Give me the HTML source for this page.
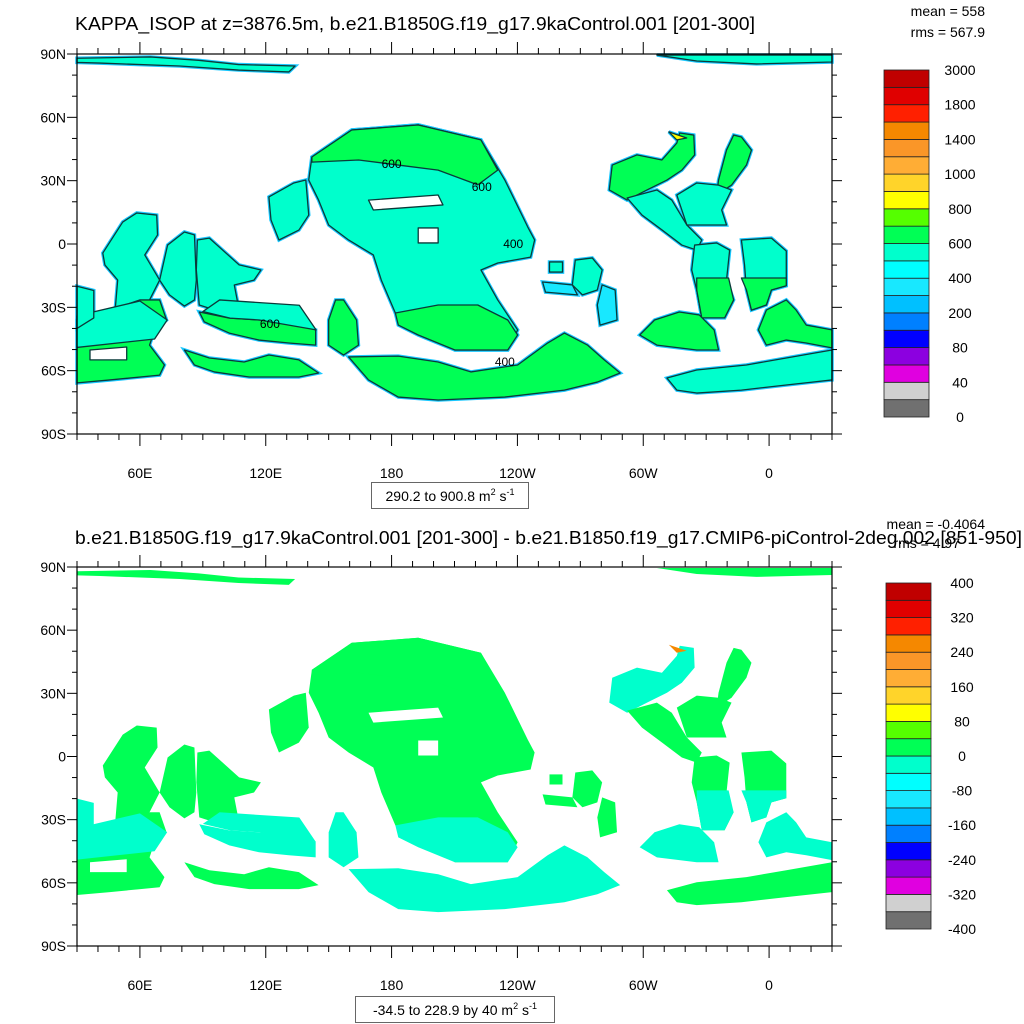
<!DOCTYPE html>
<html><head><meta charset="utf-8"><style>
html,body{margin:0;padding:0;background:#fff}
svg{display:block;font-family:"Liberation Sans",sans-serif}
</style></head><body>
<svg id="fig" width="1024" height="1024" viewBox="0 0 1024 1024">
<g id="panels"></g>
</svg>
<script>
// ---- data ----
const regionNames = ['arctic-west','arctic-east','central-continent','central-north-cap','central-south','southern-band','west-island-a','west-island-b','west-island-c','west-island-d','southwest-mass','southwest-upper','band-600','band-600-upper','lower-strip','small-island','island-r1','island-r2','island-r3','island-r4','rc1-north','rc1-strip','rc2-north','rc2-south','rc3','rc3-lower','rc4','rc4-lower','rc5','rc6','rc7','west-edge','hole-1','hole-2','hole-sw','yellow-spot'];
const regionCoords = [
[[30,88],[65,88.6],[88,87],[107,85],[134,84.3],[131,81.5],[107,82.4],[79,84.3],[41,85.7],[30,86]],
[[306.5,89.5],[390,89.5],[390,86.2],[354,85.3],[325.5,86.7]],
[[142,41.2],[161,54],[192.7,56.4],[222.6,49.3],[234,30.3],[244.9,8.1],[248.2,1.9],[246.3,-6.2],[230.6,-9],[222.6,-12.3],[230.6,-26.5],[240.1,-40.7],[235.4,-50.2],[210.2,-50.2],[181.8,-32.7],[175.1,-17.1],[171.3,-5.2],[159.5,1.9],[150,9],[145.2,20.8],[140.5,30.3]],
[[142,41.2],[161,54],[192.7,56.4],[222.6,49.3],[230.6,35],[221.1,28],[202.2,35],[183.2,37.4],[164.3,39.8],[142,38.8]],
[[181.8,-32.7],[202.2,-28.9],[221.1,-28.9],[235.4,-36],[240.1,-43.1],[235.4,-50.2],[210.2,-50.2],[192.7,-43.1],[183.2,-38.4]],
[[159.5,-53.5],[183.2,-53.1],[202.2,-55.9],[217.8,-60.6],[240.1,-57.3],[254.4,-46.9],[262.4,-42.2],[273.3,-47.8],[281.4,-54.9],[289,-61.1],[278.1,-65.4],[262.4,-69.2],[234,-72.5],[202.2,-73.9],[183.2,-72.5],[169,-64.4]],
[[42.3,-4.3],[51.8,10.4],[58.5,14.7],[68,13.7],[68.4,4.3],[62.3,-5.2],[69.4,-17.1],[64.6,-26.5],[55.1,-35.1],[48,-33.6],[49.4,-17.1],[43.3,-9.9]],
[[69.4,-17.1],[73.2,-0.5],[81.2,5.7],[86,4.3],[86.9,-17.1],[86,-26.5],[81.2,-29.4],[74.1,-24.1]],
[[87.4,1.9],[93.1,2.8],[107.3,-9.9],[117.7,-12.3],[114.4,-17.1],[105,-19.4],[107.3,-31.3],[100.2,-32.7],[88.3,-28.9],[86.9,-12.3]],
[[121.5,22.3],[133.4,28.9],[139.1,30.3],[140.5,13.7],[135.8,6.6],[126.3,1.9],[122.5,11.4]],
[[30,-36],[45.7,-31.3],[59.9,-26.5],[69.4,-26.5],[72.7,-36],[67,-40.7],[64.6,-47.9],[71.7,-57.3],[69.4,-62.1],[45.7,-64.4],[30,-65.8]],
[[30,-34],[60,-27],[73,-36],[67,-45],[30,-49]],
[[88.3,-32.2],[102.6,-35.1],[116.8,-36],[131,-37],[143.8,-40.7],[143.8,-47.9],[131,-46.9],[116.8,-45.5],[102.6,-42.2],[90.7,-36.9]],
[[98,-26.5],[136,-29],[144,-40.7],[117,-36],[103,-35.1],[90,-32]],
[[81.2,-50.2],[93.1,-54],[109.7,-55.9],[121.5,-52.6],[135.8,-54.9],[145.2,-61.1],[135.8,-63],[112.1,-63],[95.5,-60.6],[86,-57.3]],
[[150,-36],[153.3,-26.5],[157.1,-26.5],[163.3,-36],[164.2,-47.9],[157.1,-52.6],[150,-47.9]],
[[267.6,-7.6],[275.7,-6.6],[280.4,-12.3],[278.1,-21.8],[271,-24.1],[266.2,-19.4]],
[[255.3,-8.5],[261.5,-8.5],[261.5,-13.3],[255.3,-13.3]],
[[252,-18],[266.2,-19.4],[268.6,-24.1],[253.4,-22.8]],
[[280.4,-19.4],[286.6,-21.8],[287.5,-36],[279.4,-38.4],[278.1,-28.9]],
[[283.8,25.6],[285.2,37.4],[297,42.2],[308.9,39.8],[316,47.8],[317.4,52.6],[324.1,51.6],[324.5,42.2],[318.4,35],[311.3,30.3],[301.8,25.6],[292.3,20.8]],
[[292.3,21.8],[306.5,25.6],[313.6,20.8],[320.8,9],[327.9,1.9],[325.5,-2.9],[318.4,-0.5],[309,6.6],[299.4,13.7]],
[[335.9,30.3],[339.7,44.5],[343.1,51.6],[346.8,50.7],[351.6,44.5],[349.2,37.4],[342.1,27.9],[335,23.2]],
[[316,23.2],[325.5,28.9],[335.9,27.9],[342.1,25.6],[337.4,16.1],[339.7,9],[330.2,9],[320.8,9]],
[[324.5,-0.5],[335,0.5],[341.2,-2.9],[339.7,-17.1],[343.1,-26.5],[338.8,-35],[327.9,-35],[325.5,-21.8],[323.1,-12.3]],
[[325.5,-16.1],[340.7,-16.1],[343.1,-26.5],[338.8,-35],[327.9,-35],[325.5,-21.8]],
[[346.8,1.9],[361.1,2.8],[368.2,-3.3],[368.2,-19.8],[361.1,-21.8],[358.7,-28.9],[351.6,-31.3],[349.2,-21.8],[348.3,-9.9]],
[[346.8,-16.1],[368.2,-16.1],[368.2,-19.8],[361.1,-21.8],[358.7,-28.9],[351.6,-31.3],[349.2,-21.8]],
[[298.3,-43.1],[305.4,-36],[317.2,-32.2],[326.7,-33.6],[333.8,-40.7],[335.9,-50.2],[325.5,-50.2],[306.5,-47.9]],
[[354.9,-40.7],[358.7,-31.3],[368.2,-26.5],[372.9,-31.3],[377.7,-38.4],[390,-40.7],[390,-49.2],[377.7,-46.9],[368.2,-45.5],[358.7,-47.9]],
[[311.3,-63.5],[325.5,-59.7],[349.2,-57.3],[368.2,-54],[390,-50.2],[390,-64.4],[368.2,-66.8],[346.8,-69.2],[325.5,-70.6],[316,-69.2]],
[[30,-20],[38,-22],[38,-35],[30,-40]],
[[169,20.8],[202.2,23.2],[204.5,18.5],[171.3,16.1]],
[[192.7,7.6],[202.2,7.6],[202.2,0.5],[192.7,0.5]],
[[36.2,-50.2],[53.7,-48.8],[53.7,-54.9],[36.2,-54.9]],
[[312.2,53.1],[320.7,50.2],[316,49.3]]
];
const topValues    = [550,550,550,650,650,650,550,550,550,550,650,550,650,550,650,650,550,550,350,350,650,550,650,550,550,650,550,650,650,650,550,550,null,null,null,850];
const bottomValues = [20,20,20,20,-20,-20,20,20,20,20,20,-20,-20,-20,20,-20,20,20,20,20,-20,20,20,20,20,-20,20,-20,-20,-20,20,-20,null,null,null,250];
const topLevels = [0,20,40,60,80,100,200,300,400,500,600,700,800,900,1000,1200,1400,1600,1800,2400,3000];
const topTickLabels = ['0','40','80','200','400','600','800','1000','1400','1800','3000'];
const bottomLevels = [-400,-360,-320,-280,-240,-200,-160,-120,-80,-40,0,40,80,120,160,200,240,280,320,360,400];
const bottomTickLabels = ['-400','-320','-240','-160','-80','0','80','160','240','320','400'];
const boxColors = ['#707070','#d0d0d0','#e000e0','#8c00e0','#0000ff','#0080ff','#00c0ff','#18e8ff','#00ffff','#00ffcc','#00ff55','#55ff00','#ffff00','#ffd42a','#ffad35','#fa9628','#f58800','#ff2000','#e00000','#c00000'];
const lonTicks = [60,120,180,240,300,360];
const lonTickLabels = ['60E','120E','180','120W','60W','0'];
const latTicks = [90,60,30,0,-30,-60,-90];
const latTickLabels = ['90N','60N','30N','0','30S','60S','90S'];
const contourLabelText = ['600','600','400','600','400'];
const contourLabelPos = [[180,38],[223,27],[238,0],[122,-38],[234,-56]];

// ---- drawing ----
const NS='http://www.w3.org/2000/svg';
const root=document.getElementById('panels');
function mk(tag,attrs,parent){const e=document.createElementNS(NS,tag);for(const k in attrs)e.setAttribute(k,attrs[k]);(parent||root).appendChild(e);return e;}
const X0=77,X1=832;
function px(lon){return X0+(lon-30)*(X1-X0)/360;}
function colorFor(v,levels){for(let i=0;i<levels.length-1;i++){if(v>=levels[i]&&v<levels[i+1])return boxColors[i];}return boxColors[boxColors.length-1];}

function panel(key,top,bot,values,levels,ticks,cbTop,cbBot,cbX,outlined){
  const py=lat=>top+(90-lat)*(bot-top)/180;
  const g=mk('g',{});
  
  
  if(outlined){
    regionCoords.forEach((c,i)=>{
      if(values[i]===null||i===11||i===13||i===25||i===27)return;
      const p=mk('polygon',{points:c.map(q=>px(q[0])+','+py(q[1])).join(' '),fill:'none',stroke:'#18c8ff','stroke-width':3.5},g);
      
      
    });
  }
  regionCoords.forEach((c,i)=>{
    const v=values[i];
    const fill=v===null?'#ffffff':colorFor(v,levels);
    const p=mk('polygon',{points:c.map(q=>px(q[0])+','+py(q[1])).join(' '),fill:fill,stroke:outlined?'#0a3a3a':'none','stroke-width':outlined?1.3:0,'stroke-linejoin':'round'},g);
    
    
  });
  if(outlined){
    contourLabelText.forEach((t,i)=>{
      const e=mk('text',{x:px(contourLabelPos[i][0]),y:py(contourLabelPos[i][1])+4,'font-size':12,'text-anchor':'middle',fill:'#000'},g);
      e.textContent=t;
      
      
    });
  }
  const fr=mk('rect',{x:X0,y:top,width:X1-X0,height:bot-top,fill:'none',stroke:'#000','stroke-width':1.2});
  
  
  const tg=mk('g',{stroke:'#000','stroke-width':1});
  
  
  for(let lon=30;lon<=390;lon+=10){
    const L=(lon%60===0)?12:6;const x=px(lon);
    mk('line',{x1:x,x2:x,y1:bot,y2:bot+L},tg);mk('line',{x1:x,x2:x,y1:top,y2:top-L},tg);
  }
  for(let lat=-90;lat<=90;lat+=10){
    const L=(lat%30===0)?10:5;const y=py(lat);
    mk('line',{x1:X0,x2:X0-L,y1:y,y2:y},tg);mk('line',{x1:X1,x2:X1+L,y1:y,y2:y},tg);
  }
  lonTicks.forEach((lon,i)=>{
    const t=mk('text',{x:px(lon),y:bot+44,'font-size':14,'text-anchor':'middle'});
    t.textContent=lonTickLabels[i];
    
    
  });
  latTicks.forEach((lat,i)=>{
    const t=mk('text',{x:66,y:py(lat)+5,'font-size':14,'text-anchor':'end'});
    t.textContent=latTickLabels[i];
    
    
  });
  const cb=mk('g',{});
  
  
  const n=boxColors.length,h=(cbBot-cbTop)/n;
  boxColors.forEach((c,i)=>{
    const r=mk('rect',{x:cbX,y:cbBot-(i+1)*h,width:45,height:h,fill:c,stroke:'#222','stroke-width':0.8},cb);
    
    
  });
  ticks.forEach((t,i)=>{
    const e=mk('text',{x:cbX+76,y:cbBot-i*2*h+5,'font-size':14,'text-anchor':'middle'},cb);
    e.textContent=t;
    
    
  });
}
panel('top',54,434,topValues,topLevels,topTickLabels,70,417,884,true);
panel('bottom',567,946,bottomValues,bottomLevels,bottomTickLabels,583,929,886,false);
</script>
<svg width="1024" height="1024" style="position:absolute;left:0;top:0">
<g font-family="Liberation Sans, sans-serif">
<text x="75" y="30" font-size="18" textLength="680" lengthAdjust="spacingAndGlyphs">KAPPA_ISOP at z=3876.5m, b.e21.B1850G.f19_g17.9kaControl.001 [201-300]</text>
<text x="985" y="16" font-size="14" text-anchor="end">mean = 558</text>
<text x="985" y="37" font-size="14" text-anchor="end">rms = 567.9</text>
<rect x="371.5" y="482.5" width="157" height="26" fill="#fff" stroke="#666"/>
<text x="450" y="501" font-size="14" text-anchor="middle">290.2 to 900.8 m<tspan font-size="9" dy="-6">2</tspan><tspan dy="6"> s</tspan><tspan font-size="9" dy="-6">-1</tspan></text>
<text x="75" y="544" font-size="18" textLength="947" lengthAdjust="spacingAndGlyphs">b.e21.B1850G.f19_g17.9kaControl.001 [201-300] - b.e21.B1850.f19_g17.CMIP6-piControl-2deg.002 [851-950]</text>
<text x="985" y="529" font-size="14" text-anchor="end">mean = -0.4064</text>
<text x="960" y="548" font-size="14" text-anchor="end">rms = 4.97</text>
<rect x="355.5" y="996.5" width="199" height="26" fill="#fff" stroke="#666"/>
<text x="455" y="1015" font-size="14" text-anchor="middle">-34.5 to 228.9 by 40 m<tspan font-size="9" dy="-6">2</tspan><tspan dy="6"> s</tspan><tspan font-size="9" dy="-6">-1</tspan></text>
</g>
</svg>
</body></html>
